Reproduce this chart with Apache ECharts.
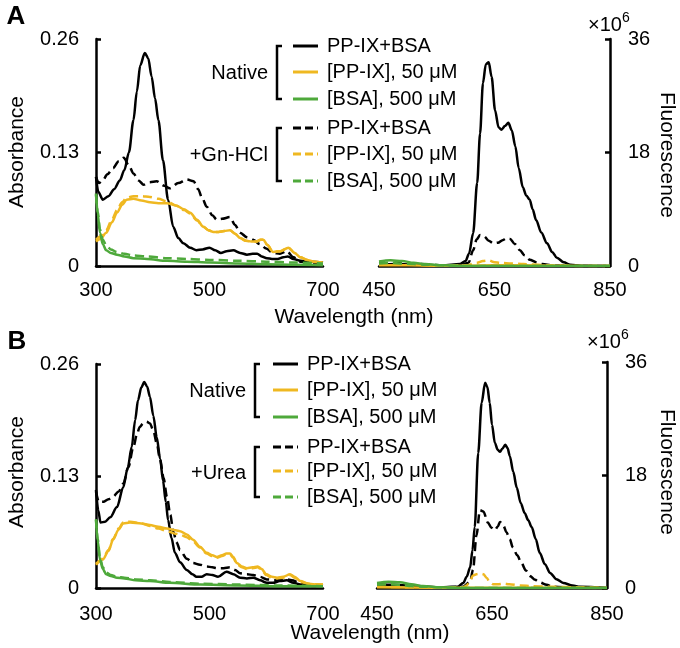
<!DOCTYPE html>
<html>
<head>
<meta charset="utf-8">
<script src="https://cdn.jsdelivr.net/npm/echarts@6/dist/echarts.min.js"></script>
<style>
  html, body { margin: 0; padding: 0; background: #fff; }
  #chart { width: 680px; height: 648px; }
</style>
</head>
<body>
<div id="chart"></div>
<script>
// colours of the three samples
const BLACK = '#000000';
const YELLOW = '#EFB821';
const GREEN = '#4EA93B';
const FONT = 'Liberation Sans, Arial, sans-serif';

const legendLabels = ['PP-IX+BSA', '[PP-IX], 50 μM', '[BSA], 500 μM'];
const absTicks = [0, 0.13, 0.26];
const fluoTicks = [0, 18, 36];

// ---------- panel A, absorbance ----------
const aNatPbX = [300,304,312,322,332,342,350,358,366,372,378,386,392,398,404,410,418,427,436,445,454,466,477,488,500,510,520,530,542,554,566,576,584,592,601,610,620,630,638,648,660,680,700];
const aNatPbY = [.102,.085,.076,.080,.088,.098,.110,.130,.167,.200,.230,.244,.238,.217,.192,.167,.121,.076,.045,.032,.026,.021,.018,.019,.021,.018,.015,.017,.018,.015,.013,.014,.014,.011,.009,.008,.008,.010,.011,.008,.006,.005,.004];
const aGnPbX = [300,305,312,320,330,340,349,358,366,375,384,395,407,420,430,445,460,472,480,487,495,505,513,522,536,545,554,566,577,589,600,612,624,636,648,660,680,700];
const aGnPbY = [.102,.095,.098,.105,.112,.120,.124,.115,.106,.098,.093,.096,.097,.092,.089,.095,.099,.097,.088,.078,.068,.058,.053,.054,.056,.047,.038,.033,.030,.025,.020,.015,.014,.017,.010,.005,.004,.003];
const aNatPpX = [300,308,318,328,337,346,354,366,380,395,410,425,442,455,466,478,489,498,507,516,526,536,545,554,564,574,583,590,595,602,612,625,639,650,660,672,683,700];
const aNatPpY = [.028,.031,.038,.050,.061,.070,.076,.077,.075,.073,.072,.072,.069,.065,.061,.053,.045,.041,.039,.039,.040,.041,.037,.032,.029,.028,.028,.030,.030,.024,.016,.017,.021,.015,.010,.007,.005,.004];
const aGnPpY = [.030,.034,.041,.053,.064,.073,.078,.080,.080,.079,.077,.074,.069,.064,.060,.052,.045,.041,.039,.039,.040,.041,.037,.032,.029,.028,.028,.030,.030,.024,.016,.017,.021,.015,.010,.007,.005,.004];
const aBsaX = [300,303,307,312,318,326,337,350,366,390,425,460,500,550,600,650,700];
const aNatBsaY = [.083,.060,.038,.025,.018,.015,.013,.011,.009,.008,.006,.005,.004,.003,.002,.0015,.001];
const aGnBsaY = [.082,.062,.042,.030,.024,.019,.016,.014,.012,.011,.009,.008,.007,.006,.005,.004,.003];

// ---------- panel A, fluorescence (x10^6) ----------
const fNatPbX = [450,480,520,560,590,600,606,613,620,625,630,635,640,645,651,657,662,668,674,680,686,692,699,705,711,716,722,731,741,750,758,770,781,800,850];
const fNatPbY = [0.2,0.3,0.2,0.1,0.3,0.8,2.0,5.2,13.2,21,29,32,32.3,30,24.7,22,21.6,22.2,22.7,21.5,19,15.5,12.5,11.2,10.5,9,7.3,5.3,3.6,2.2,1.3,0.6,0.2,0.05,0];
const fGnPbX = [450,480,520,560,590,605,613,619,625,632,640,648,656,664,671,677,685,694,702,711,722,733,750,800,850];
const fGnPbY = [0.4,0.5,0.3,0.1,0.1,0.5,2.5,4.2,4.9,4.7,4.0,3.6,3.7,4.1,4.4,4.3,3.5,2.5,1.7,1.0,0.6,0.3,0.1,0,0];
const fNatPpX = [450,500,550,600,650,700,750,800,850];
const fNatPpY = [0.1,0.1,0.05,0.05,0.1,0.1,0.05,0,0];
const fGnPpX = [450,500,550,600,620,630,640,650,660,680,700,750,800,850];
const fGnPpY = [0.3,0.2,0.1,0.1,0.5,0.8,0.9,0.6,0.5,0.4,0.3,0.1,0,0];
const fBsaX = [450,470,490,510,530,560,600,700,850];
const fNatBsaY = [0.7,0.9,0.8,0.5,0.3,0.1,0,0,0];
const fGnBsaY = [0.4,0.5,0.4,0.3,0.2,0.1,0,0,0];

// ---------- panel B, absorbance ----------
const bNatPbX = [300,304,308,316,325,337,348,356,363,369,374,380,385,390,395,401,407,413,418,423,427,433,439,448,460,470,477,486,495,505,515,530,542,554,566,577,589,601,612,624,636,648,660,680,700];
const bNatPbY = [.114,.090,.076,.077,.082,.094,.117,.140,.164,.195,.218,.233,.239,.234,.222,.200,.175,.150,.125,.100,.079,.058,.041,.030,.021,.016,.013,.013,.016,.015,.013,.019,.016,.012,.011,.012,.009,.006,.006,.008,.009,.006,.004,.003,.003];
const bUrPbX = [300,305,313,322,330,340,348,357,366,372,377,383,389,395,401,407,413,419,425,431,436,442,448,460,471,483,495,505,513,525,536,545,554,566,577,589,601,615,630,645,660,680,700];
const bUrPbY = [.112,.100,.100,.103,.106,.112,.121,.140,.164,.178,.187,.191,.193,.191,.183,.168,.149,.128,.106,.085,.066,.053,.044,.034,.029,.027,.025,.024,.023,.023,.024,.021,.017,.016,.015,.013,.010,.009,.011,.009,.006,.004,.003];
const bPpX = [300,312,322,330,340,348,360,380,395,410,425,440,448,460,471,483,495,505,513,522,530,536,542,548,557,566,576,585,592,600,610,619,630,642,650,660,675,690,700];
const bNatPpY = [.027,.033,.043,.056,.068,.075,.076,.075,.073,.071,.069,.067,.066,.062,.056,.048,.041,.038,.036,.038,.040,.040,.036,.029,.025,.023,.024,.025,.022,.016,.013,.012,.013,.016,.013,.008,.005,.004,.004];
const bUrPpY = [.028,.034,.044,.057,.069,.076,.077,.075,.072,.069,.066,.063,.062,.059,.054,.047,.040,.037,.035,.037,.039,.039,.035,.028,.024,.022,.023,.024,.021,.015,.012,.011,.012,.015,.012,.007,.005,.004,.004];
const bBsaX = [300,303,307,312,318,326,337,350,370,395,430,484,550,620,700];
const bNatBsaY = [.079,.055,.033,.022,.016,.014,.012,.011,.009,.008,.006,.004,.003,.002,.002];
const bUrBsaY = [.080,.057,.035,.024,.018,.015,.013,.012,.010,.009,.007,.005,.004,.003,.002];

// ---------- panel B, fluorescence (x10^6) ----------
const gNatPbX = [450,480,520,560,590,600,606,612,616,620,626,632,638,642,646,650,655,660,664,668,673,677,681,687,693,700,707,713,719,726,733,742,751,762,774,790,803,850];
const gNatPbY = [0.6,0.5,0.3,0.1,0.2,0.8,1.8,3.3,6,9.7,21.5,29.5,32.7,32,29.5,26,23.1,22,21.7,22.2,22.8,22.3,21,18.5,16,13.5,11.9,10.8,9.7,7.8,5.6,3.8,2.4,1.4,0.8,0.4,0.2,0];
const gUrPbX = [450,500,560,600,612,617,623,629,635,643,649,655,660,664,670,675,681,686,694,701,709,716,725,733,745,756,800,850];
const gUrPbY = [0.4,0.3,0.1,0.2,1.0,2.9,8.4,12.4,12.2,10.4,9.6,9.2,9.8,10.5,9.9,8.9,7.8,6.5,5.2,4.0,2.8,1.9,1.3,0.9,0.5,0.2,0,0];
const gNatPpX = [450,550,650,750,850];
const gNatPpY = [0.1,0.05,0.05,0.05,0];
const gUrPpX = [450,550,600,606,612,617,623,630,635,641,646,652,660,670,680,700,720,750,800,850];
const gUrPpY = [0.2,0.1,0.1,0.4,1.2,2.0,2.2,2.3,2.2,1.6,0.9,0.6,0.6,0.7,0.6,0.4,0.3,0.2,0.1,0];
const gBsaX = [450,470,490,510,530,560,600,850];
const gNatBsaY = [0.8,1.0,0.9,0.6,0.3,0.1,0,0];
const gUrBsaY = [0.5,0.6,0.5,0.3,0.2,0.1,0,0];

function pts(xs, ys) {
  return xs.map((x, i) => [x, ys[i]]);
}

// grid index: 0 A-abs, 1 A-fluo, 2 B-abs, 3 B-fluo
function curve(grid, xs, ys, color, dashed) {
  return {
    type: 'line',
    xAxisIndex: grid,
    yAxisIndex: grid,
    data: pts(xs, ys),
    showSymbol: false,
    smooth: 0.3,
    smoothMonotone: 'x',
    clip: true,
    lineStyle: { color: color, width: 2.5, type: dashed ? [9, 5] : 'solid' },
    z: 3
  };
}

const series = [
  curve(0, aNatPbX, aNatPbY, BLACK, false),
  curve(0, aGnPbX, aGnPbY, BLACK, true),
  curve(0, aNatPpX, aNatPpY, YELLOW, false),
  curve(0, aNatPpX, aGnPpY, YELLOW, true),
  curve(0, aBsaX, aNatBsaY, GREEN, false),
  curve(0, aBsaX, aGnBsaY, GREEN, true),

  curve(1, fNatPbX, fNatPbY, BLACK, false),
  curve(1, fGnPbX, fGnPbY, BLACK, true),
  curve(1, fNatPpX, fNatPpY, YELLOW, false),
  curve(1, fGnPpX, fGnPpY, YELLOW, true),
  curve(1, fBsaX, fNatBsaY, GREEN, false),
  curve(1, fBsaX, fGnBsaY, GREEN, true),

  curve(2, bNatPbX, bNatPbY, BLACK, false),
  curve(2, bUrPbX, bUrPbY, BLACK, true),
  curve(2, bPpX, bNatPpY, YELLOW, false),
  curve(2, bPpX, bUrPpY, YELLOW, true),
  curve(2, bBsaX, bNatBsaY, GREEN, false),
  curve(2, bBsaX, bUrBsaY, GREEN, true),

  curve(3, gNatPbX, gNatPbY, BLACK, false),
  curve(3, gUrPbX, gUrPbY, BLACK, true),
  curve(3, gNatPpX, gNatPpY, YELLOW, false),
  curve(3, gUrPpX, gUrPpY, YELLOW, true),
  curve(3, gBsaX, gNatBsaY, GREEN, false),
  curve(3, gBsaX, gUrBsaY, GREEN, true)
];

const axisLineStyle = { color: '#000', width: 2.5 };
const tickFont = { color: '#000', fontSize: 20, fontFamily: FONT };

function xAx(grid, min, max, margin) {
  return {
    type: 'value', gridIndex: grid, min: min, max: max, interval: 200,
    axisLine: { show: true, onZero: false, lineStyle: axisLineStyle },
    axisTick: { show: false },
    splitLine: { show: false },
    axisLabel: Object.assign({ margin: margin }, tickFont)
  };
}

function yAbs(grid) {
  return {
    type: 'value', gridIndex: grid, min: absTicks[0], max: absTicks[2], interval: absTicks[1],
    axisLine: { show: true, onZero: false, lineStyle: axisLineStyle },
    axisTick: { show: true, inside: true, length: 5, lineStyle: { width: 2.5, color: '#000' } },
    splitLine: { show: false },
    axisLabel: Object.assign({ margin: 17, formatter: v => v === 0 ? '0' : v.toFixed(2) }, tickFont)
  };
}

function yFluo(grid) {
  return {
    type: 'value', gridIndex: grid, position: 'right',
    min: fluoTicks[0], max: fluoTicks[2], interval: fluoTicks[1],
    axisLine: { show: true, onZero: false, lineStyle: axisLineStyle },
    axisTick: { show: true, inside: true, length: 5, lineStyle: { width: 2.5, color: '#000' } },
    splitLine: { show: false },
    axisLabel: Object.assign({ margin: 18 }, tickFont)
  };
}

function txt(x, y, s, opts) {
  const o = opts || {};
  return {
    type: 'text', x: x, y: y, rotation: o.rotation || 0, z: 10,
    style: {
      text: s, fill: '#000',
      font: (o.bold ? 'bold ' : '') + (o.size || 20) + 'px ' + FONT,
      textAlign: o.align || 'left', align: o.align || 'left',
      textVerticalAlign: 'middle', verticalAlign: 'middle'
    }
  };
}

// bracketed legend drawn by hand
function legendBlock(lineX, textX, bracketX, rows, groupLabels) {
  const els = [];
  const colors = [BLACK, YELLOW, GREEN];
  rows.forEach((y, i) => {
    const dashed = i >= 3;
    els.push({
      type: 'line', z: 10,
      shape: { x1: lineX, y1: y, x2: lineX + 25, y2: y },
      style: { stroke: colors[i % 3], lineWidth: 3, lineDash: dashed ? [8, 4] : null }
    });
    els.push(txt(textX, y, legendLabels[i % 3]));
  });
  [[rows[0], rows[2]], [rows[3], rows[5]]].forEach((r, k) => {
    els.push({
      type: 'polyline', z: 10,
      shape: { points: [[bracketX + 5, r[0]], [bracketX, r[0]], [bracketX, r[1]], [bracketX + 5, r[1]]] },
      style: { stroke: '#000', lineWidth: 2.5, fill: null }
    });
    els.push(txt(bracketX - 9, (r[0] + r[1]) / 2 + 1, groupLabels[k], { align: 'right' }));
  });
  return els;
}

const graphic = [].concat(
  [
    txt(16, 17, 'A', { bold: true, size: 26, align: 'center' }),
    txt(17, 342, 'B', { bold: true, size: 26, align: 'center' }),
    txt(17, 152, 'Absorbance', { rotation: Math.PI / 2, align: 'center', size: 21 }),
    txt(17, 472, 'Absorbance', { rotation: Math.PI / 2, align: 'center', size: 21 }),
    txt(667, 155, 'Fluorescence', { rotation: -Math.PI / 2, align: 'center', size: 21 }),
    txt(667, 472, 'Fluorescence', { rotation: -Math.PI / 2, align: 'center', size: 21 }),
    txt(354, 317, 'Wavelength (nm)', { align: 'center', size: 21 }),
    txt(370, 633, 'Wavelength (nm)', { align: 'center', size: 21 }),
    txt(588, 25, '×10', { size: 20 }),
    txt(622, 18, '6', { size: 14 }),
    txt(587, 342, '×10', { size: 20 }),
    txt(621, 335, '6', { size: 14 })
  ],
  legendBlock(293, 327, 277, [46, 72, 99, 128, 154, 181], ['Native', '+Gn-HCl']),
  legendBlock(273, 307, 255, [364, 390, 417, 447, 471, 497], ['Native', '+Urea'])
);

const chart = echarts.init(document.getElementById('chart'), null, { renderer: 'canvas' });
chart.setOption({
  animation: false,
  backgroundColor: '#fff',
  grid: [
    { left: 96, top: 39, width: 227, height: 227 },
    { left: 379, top: 39, width: 231, height: 227 },
    { left: 96, top: 364, width: 227, height: 224 },
    { left: 377, top: 362, width: 230, height: 226 }
  ],
  xAxis: [xAx(0, 300, 700, 14), xAx(1, 450, 850, 14), xAx(2, 300, 700, 16), xAx(3, 450, 850, 16)],
  yAxis: [yAbs(0), yFluo(1), yAbs(2), yFluo(3)],
  series: series,
  graphic: graphic
});
</script>
</body>
</html>
